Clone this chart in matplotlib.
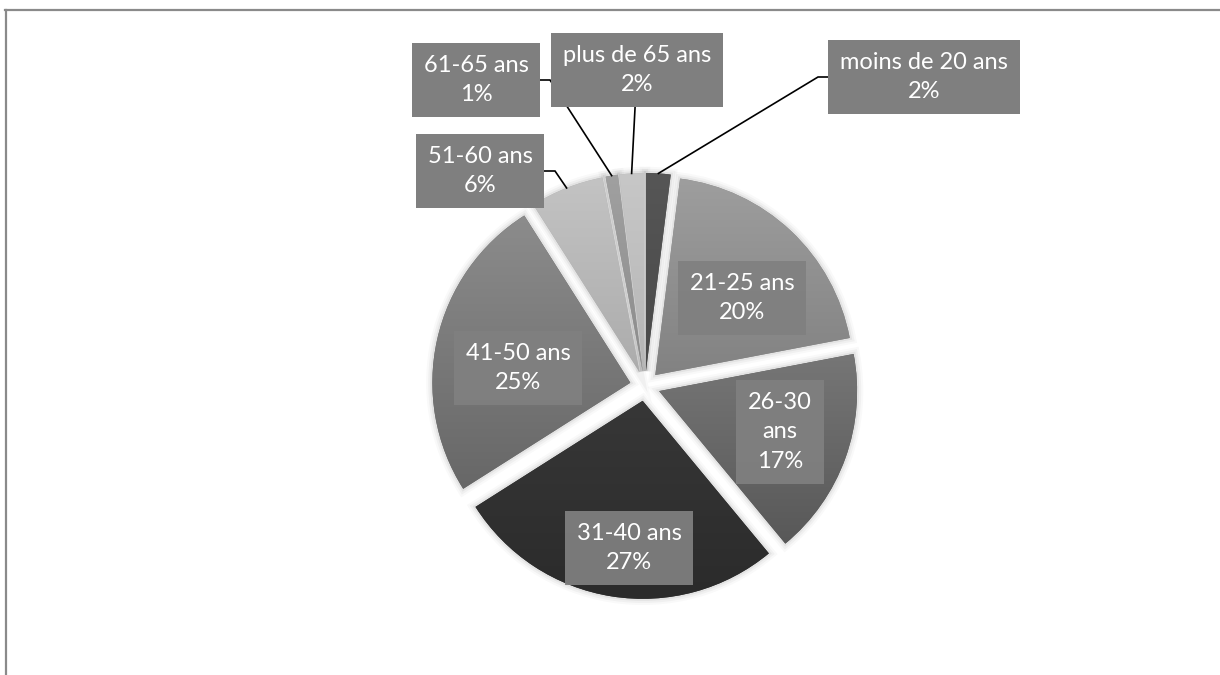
import matplotlib.pyplot as plt
import numpy as np
from matplotlib.colors import to_rgb
from matplotlib.lines import Line2D
from matplotlib.patches import Wedge

W, H = 1220, 675

categories = ["moins de 20 ans", "21-25 ans", "26-30 ans", "31-40 ans",
              "41-50 ans", "51-60 ans", "61-65 ans", "plus de 65 ans"]
shares = [2, 20, 17, 27, 25, 6, 1, 2]

# each slice is shaded from a lighter top to a darker bottom
top_colors = ["#565656", "#9e9e9e", "#767676", "#373737",
              "#8c8c8c", "#c3c3c3", "#a0a0a0", "#c7c7c7"]
bottom_colors = ["#494949", "#828282", "#585858", "#2b2b2b",
                 "#676767", "#acacac", "#8c8c8c", "#b6b6b6"]

CENTER = (645, 386)     # pixels, y pointing down
RADIUS = 198
EXPLODE = 15

# label box centres (pixels, y down); elbow x for leader lines
label_pos = [(924, 77), (742, 298), (780, 432), (629, 548),
             (518, 368), (480, 171), (476, 80), (637, 70)]
outside = [True, False, False, False, False, True, True, True]
elbow_x = [818, None, None, None, None, 555, 550, None]
wrap = [False, False, True, False, False, False, False, False]


def px(x, y):
    return x, H - y


fig = plt.figure(figsize=(W / 100, H / 100), dpi=100)
ax = fig.add_axes([0, 0, 1, 1])

wedges, _ = ax.pie(shares, startangle=90, counterclock=False,
                   center=px(*CENTER), radius=RADIUS,
                   explode=[EXPLODE] * len(shares),
                   colors=bottom_colors, wedgeprops=dict(linewidth=0))

for w, c0, c1 in zip(wedges, top_colors, bottom_colors):
    w.set_zorder(2)
    # soft shadow around the slice
    for lw, a in [(9, 0.025), (6, 0.035), (3, 0.05)]:
        ax.add_patch(Wedge(w.center, w.r, w.theta1, w.theta2,
                           facecolor="none", edgecolor="black",
                           linewidth=lw, alpha=a, zorder=1))
    ext = w.get_path().get_extents()
    grad = np.linspace(to_rgb(c0), to_rgb(c1), 256)[:, None, :]
    im = ax.imshow(grad, extent=(ext.x0, ext.x1, ext.y0, ext.y1),
                   origin="upper", aspect="auto", zorder=3,
                   interpolation="bilinear")
    im.set_clip_path(w)

# labels and leader lines
cx, cy = px(*CENTER)
cum = 0
for i, (name, v) in enumerate(zip(categories, shares)):
    mid = np.deg2rad(90 - 360 * (cum + v / 2) / 100)
    cum += v
    lx, ly = px(*label_pos[i])
    text = name.replace(" ", "\n") if wrap[i] else name
    text = f"{text}\n{v}%"
    if outside[i]:
        rr = RADIUS + EXPLODE
        ex, ey = cx + rr * np.cos(mid), cy + rr * np.sin(mid)
        if elbow_x[i] is None:
            ax.plot([lx, ex], [ly, ey], color="black", lw=1.2, zorder=4)
        else:
            ax.plot([lx, elbow_x[i], ex], [ly, ly, ey], color="black",
                    lw=1.2, zorder=4, solid_joinstyle="miter")
        box = dict(boxstyle="square,pad=0.5", fc="#7f7f7f", ec="none")
    else:
        box = dict(boxstyle="square,pad=0.5", fc="#808080", ec="none",
                   alpha=0.93)
    ax.text(lx, ly, text, ha="center", va="center", color="white",
            fontsize=17, family="Lato", linespacing=1.5, bbox=box, zorder=5)

ax.set_xlim(0, W)
ax.set_ylim(0, H)
ax.set_aspect("equal")
ax.axis("off")

# chart frame (cut at the right and bottom)
fig.add_artist(Line2D([5 / W, 1], [1 - 9.5 / H] * 2,
                      transform=fig.transFigure, color="#8a8a8a", lw=1.6))
fig.add_artist(Line2D([5.5 / W] * 2, [0, 1 - 9.5 / H],
                      transform=fig.transFigure, color="#8a8a8a", lw=1.6))

fig.savefig("out.png", dpi=100, facecolor="white")
